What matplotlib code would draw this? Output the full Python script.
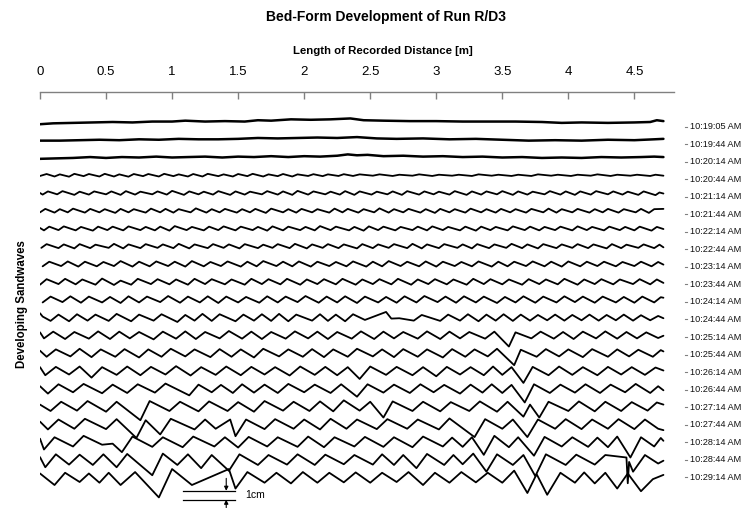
import matplotlib
matplotlib.use("Agg")
import matplotlib.pyplot as plt

plt.rcParams['font.family'] = ['Liberation Sans', 'DejaVu Sans']

# ---------------- data ----------------
title = "Bed-Form Development of Run R/D3"
x_label = "Length of Recorded Distance [m]"
y_label = "Developing Sandwaves"
tick_values = [0, 0.5, 1, 1.5, 2, 2.5, 3, 3.5, 4, 4.5]
tick_labels = ["0", "0.5", "1", "1.5", "2", "2.5", "3", "3.5", "4", "4.5"]
times = ["10:19:05 AM", "10:19:44 AM", "10:20:14 AM", "10:20:44 AM", "10:21:14 AM",
         "10:21:44 AM", "10:22:14 AM", "10:22:44 AM", "10:23:14 AM", "10:23:44 AM",
         "10:24:14 AM", "10:24:44 AM", "10:25:14 AM", "10:25:44 AM", "10:26:14 AM",
         "10:26:44 AM", "10:27:14 AM", "10:27:44 AM", "10:28:14 AM", "10:28:44 AM",
         "10:29:14 AM"]

# bed profiles: x in m, bed level in cm relative to each profile's own mean level
x_1019_05 = [0.00,0.10,0.25,0.40,0.55,0.70,0.85,1.00,1.10,1.25,1.40,1.55,1.65,1.75,1.90,2.05,2.20,2.35,2.45,2.60,2.80,3.00,3.20,3.40,3.60,3.80,3.95,4.10,4.30,4.50,4.62,4.67,4.72]
y_1019_05 = [-0.25,-0.15,-0.1,-0.05,0.0,-0.05,0.05,0.05,0.15,0.05,0.1,0.05,0.2,0.15,0.3,0.25,0.3,0.4,0.2,0.15,0.1,0.1,0.05,0.05,0.05,0.0,-0.1,-0.05,-0.1,-0.05,0.0,0.2,0.1]

x_1019_44 = [0.00,0.15,0.30,0.45,0.60,0.75,0.90,1.05,1.20,1.35,1.50,1.65,1.80,1.95,2.10,2.25,2.40,2.55,2.70,2.90,3.10,3.30,3.50,3.70,3.90,4.10,4.30,4.50,4.65,4.72]
y_1019_44 = [-0.1,-0.1,-0.05,0.0,-0.05,0.05,0.0,0.1,0.05,0.05,0.1,0.2,0.15,0.2,0.25,0.2,0.3,0.15,0.1,0.15,0.05,0.1,0.0,-0.1,-0.05,-0.1,0.0,-0.05,0.05,0.1]

x_1020_14 = [0.00,0.12,0.25,0.38,0.50,0.62,0.75,0.88,1.00,1.12,1.25,1.38,1.50,1.62,1.75,1.88,2.00,2.12,2.25,2.33,2.40,2.48,2.60,2.75,2.90,3.05,3.20,3.35,3.50,3.65,3.80,3.95,4.10,4.25,4.40,4.55,4.65,4.72]
y_1020_14 = [-0.15,-0.1,-0.05,0.05,-0.05,0.05,0.0,0.1,0.0,0.05,0.1,0.0,0.1,0.05,0.15,0.05,0.15,0.1,0.2,0.35,0.25,0.3,0.15,0.2,0.1,0.15,0.05,0.1,0.0,0.05,-0.05,0.0,-0.05,0.05,0.0,0.05,0.1,0.05]

x_1020_44 = [0.00,0.05,0.11,0.15,0.22,0.26,0.33,0.37,0.45,0.49,0.56,0.60,0.67,0.71,0.78,0.82,0.90,0.94,1.01,1.05,1.12,1.16,1.23,1.27,1.35,1.39,1.46,1.50,1.57,1.61,1.69,1.73,1.80,1.84,1.91,1.95,2.03,2.07,2.14,2.18,2.26,2.30,2.37,2.42,2.52,2.57,2.67,2.72,2.82,2.87,2.97,3.02,3.12,3.17,3.27,3.32,3.42,3.47,3.57,3.62,3.72,3.77,3.87,3.92,4.02,4.07,4.17,4.22,4.32,4.37,4.47,4.52,4.62,4.66,4.72]
y_1020_44 = [-0.08,0.14,-0.14,0.1,-0.16,0.16,-0.1,0.14,-0.14,0.16,-0.14,0.1,-0.16,0.14,-0.1,0.14,-0.14,0.16,-0.1,0.1,-0.14,0.14,-0.14,0.16,-0.1,0.1,-0.14,0.14,-0.1,0.16,-0.14,0.1,-0.1,0.14,-0.14,0.1,-0.08,0.12,-0.1,0.1,-0.08,0.12,-0.08,0.1,-0.05,0.1,-0.08,0.06,-0.05,0.1,-0.08,0.06,-0.05,0.06,-0.08,0.1,-0.05,0.06,-0.08,0.06,-0.08,0.1,-0.05,0.06,-0.08,0.06,-0.05,0.1,-0.08,0.06,-0.05,0.06,-0.08,0.06,-0.05]

x_1021_14 = [0.00,0.02,0.06,0.13,0.17,0.26,0.30,0.37,0.41,0.50,0.54,0.61,0.65,0.72,0.76,0.85,0.89,0.96,1.00,1.09,1.13,1.20,1.24,1.31,1.35,1.44,1.48,1.55,1.59,1.68,1.72,1.80,1.84,1.91,1.95,2.03,2.07,2.16,2.20,2.27,2.31,2.38,2.42,2.51,2.55,2.63,2.67,2.74,2.78,2.87,2.91,2.98,3.02,3.10,3.14,3.23,3.27,3.34,3.38,3.46,3.50,3.58,3.62,3.69,3.73,3.82,3.86,3.94,3.98,4.05,4.09,4.17,4.21,4.30,4.34,4.41,4.45,4.53,4.57,4.66,4.69,4.72]
y_1021_14 = [0.0,-0.18,0.18,-0.15,0.21,-0.21,0.15,-0.18,0.18,-0.15,0.18,-0.21,0.21,-0.18,0.15,-0.15,0.18,-0.18,0.24,-0.21,0.18,-0.15,0.15,-0.18,0.21,-0.21,0.18,-0.18,0.15,-0.15,0.21,-0.18,0.18,-0.21,0.24,-0.18,0.18,-0.15,0.15,-0.18,0.21,-0.21,0.18,-0.18,0.15,-0.15,0.18,-0.21,0.21,-0.18,0.18,-0.15,0.15,-0.18,0.21,-0.21,0.18,-0.18,0.18,-0.15,0.21,-0.21,0.18,-0.18,0.15,-0.15,0.21,-0.18,0.18,-0.21,0.18,-0.18,0.21,-0.15,0.18,-0.18,0.15,-0.21,0.18,-0.24,0.06,-0.06]

x_1021_44 = [0.00,0.04,0.11,0.15,0.21,0.25,0.34,0.38,0.45,0.49,0.57,0.61,0.67,0.71,0.80,0.84,0.91,0.95,1.01,1.05,1.14,1.18,1.26,1.30,1.36,1.40,1.49,1.53,1.59,1.63,1.71,1.75,1.84,1.88,1.94,1.98,2.06,2.10,2.19,2.23,2.29,2.33,2.41,2.45,2.53,2.57,2.64,2.68,2.75,2.79,2.88,2.92,2.99,3.03,3.10,3.14,3.22,3.26,3.34,3.38,3.45,3.49,3.56,3.60,3.68,3.72,3.81,3.85,3.91,3.95,4.03,4.07,4.16,4.20,4.26,4.30,4.38,4.42,4.51,4.55,4.61,4.65,4.72]
y_1021_44 = [-0.18,0.21,-0.21,0.18,-0.18,0.24,-0.21,0.21,-0.18,0.18,-0.24,0.21,-0.18,0.18,-0.21,0.24,-0.18,0.21,-0.21,0.18,-0.18,0.27,-0.21,0.18,-0.18,0.21,-0.21,0.18,-0.18,0.21,-0.24,0.24,-0.18,0.18,-0.21,0.21,-0.18,0.18,-0.21,0.24,-0.18,0.21,-0.21,0.18,-0.18,0.27,-0.21,0.18,-0.18,0.21,-0.21,0.18,-0.24,0.21,-0.18,0.18,-0.21,0.24,-0.18,0.18,-0.21,0.21,-0.18,0.18,-0.21,0.21,-0.18,0.24,-0.21,0.18,-0.18,0.21,-0.21,0.18,-0.18,0.21,-0.21,0.18,-0.18,0.21,-0.24,0.18,0.21]

x_1022_14 = [0.00,0.03,0.07,0.14,0.18,0.27,0.31,0.40,0.44,0.51,0.55,0.63,0.67,0.76,0.80,0.87,0.91,0.98,1.02,1.11,1.15,1.24,1.28,1.35,1.39,1.48,1.52,1.61,1.65,1.72,1.76,1.84,1.88,1.97,2.01,2.08,2.12,2.20,2.24,2.34,2.38,2.45,2.49,2.56,2.60,2.69,2.73,2.82,2.86,2.93,2.97,3.05,3.09,3.18,3.22,3.30,3.34,3.41,3.45,3.54,3.58,3.67,3.71,3.78,3.82,3.90,3.94,4.03,4.07,4.14,4.18,4.27,4.31,4.39,4.43,4.50,4.54,4.63,4.67,4.72]
y_1022_14 = [0.06,-0.21,0.21,-0.18,0.24,-0.21,0.18,-0.24,0.21,-0.18,0.21,-0.21,0.24,-0.18,0.18,-0.21,0.21,-0.24,0.27,-0.18,0.18,-0.21,0.21,-0.18,0.24,-0.21,0.21,-0.18,0.18,-0.24,0.24,-0.21,0.21,-0.18,0.18,-0.21,0.27,-0.18,0.21,-0.21,0.18,-0.24,0.24,-0.18,0.21,-0.21,0.18,-0.18,0.21,-0.21,0.24,-0.18,0.18,-0.21,0.21,-0.24,0.21,-0.18,0.18,-0.21,0.24,-0.18,0.21,-0.21,0.18,-0.18,0.21,-0.21,0.24,-0.18,0.18,-0.21,0.21,-0.18,0.18,-0.21,0.21,-0.24,0.18,-0.06]

x_1022_44 = [0.01,0.05,0.14,0.18,0.26,0.30,0.38,0.42,0.52,0.56,0.63,0.67,0.76,0.80,0.89,0.93,1.01,1.05,1.13,1.17,1.27,1.31,1.39,1.43,1.51,1.55,1.65,1.69,1.76,1.80,1.89,1.93,2.02,2.06,2.14,2.18,2.26,2.30,2.40,2.44,2.52,2.56,2.64,2.68,2.78,2.82,2.89,2.93,3.02,3.06,3.16,3.20,3.27,3.31,3.40,3.44,3.53,3.57,3.65,3.69,3.77,3.81,3.91,3.95,4.03,4.07,4.15,4.19,4.29,4.33,4.40,4.44,4.53,4.57,4.65,4.69,4.72]
y_1022_44 = [-0.18,0.24,-0.21,0.21,-0.24,0.24,-0.21,0.18,-0.18,0.27,-0.24,0.21,-0.21,0.24,-0.18,0.21,-0.21,0.27,-0.24,0.21,-0.21,0.24,-0.18,0.21,-0.24,0.24,-0.21,0.18,-0.18,0.24,-0.21,0.27,-0.24,0.21,-0.18,0.24,-0.21,0.21,-0.24,0.24,-0.21,0.21,-0.18,0.24,-0.21,0.27,-0.24,0.21,-0.21,0.24,-0.18,0.21,-0.24,0.24,-0.21,0.21,-0.18,0.27,-0.21,0.21,-0.24,0.24,-0.21,0.21,-0.18,0.24,-0.21,0.21,-0.24,0.24,-0.21,0.18,-0.18,0.21,-0.21,0.18,-0.12]

x_1023_14 = [0.02,0.07,0.16,0.21,0.29,0.34,0.43,0.48,0.56,0.61,0.70,0.75,0.83,0.88,0.97,1.02,1.10,1.15,1.24,1.29,1.37,1.42,1.52,1.57,1.64,1.69,1.79,1.84,1.91,1.96,2.05,2.10,2.19,2.24,2.32,2.37,2.47,2.52,2.59,2.64,2.73,2.78,2.87,2.92,3.00,3.05,3.14,3.19,3.27,3.32,3.42,3.47,3.54,3.59,3.68,3.73,3.82,3.87,3.95,4.00,4.09,4.14,4.22,4.27,4.36,4.41,4.50,4.55,4.63,4.68,4.72]
y_1023_14 = [-0.26,0.26,-0.23,0.29,-0.29,0.26,-0.26,0.23,-0.23,0.33,-0.29,0.26,-0.26,0.29,-0.23,0.26,-0.29,0.33,-0.26,0.23,-0.23,0.29,-0.29,0.26,-0.26,0.33,-0.23,0.26,-0.26,0.29,-0.29,0.26,-0.23,0.23,-0.26,0.29,-0.29,0.26,-0.26,0.33,-0.23,0.26,-0.26,0.29,-0.29,0.26,-0.23,0.23,-0.26,0.29,-0.29,0.26,-0.26,0.26,-0.23,0.29,-0.26,0.26,-0.29,0.29,-0.26,0.26,-0.23,0.26,-0.26,0.23,-0.23,0.26,-0.26,0.23,-0.07]

x_1023_44 = [0.00,0.05,0.14,0.19,0.27,0.32,0.42,0.47,0.56,0.61,0.69,0.74,0.84,0.89,0.98,1.03,1.12,1.17,1.25,1.30,1.40,1.45,1.55,1.60,1.68,1.73,1.82,1.87,1.97,2.02,2.10,2.15,2.24,2.29,2.39,2.44,2.52,2.57,2.66,2.71,2.81,2.86,2.94,2.99,3.08,3.13,3.23,3.28,3.36,3.41,3.50,3.55,3.65,3.70,3.78,3.83,3.92,3.97,4.07,4.12,4.20,4.25,4.34,4.39,4.49,4.54,4.62,4.67,4.72]
y_1023_44 = [-0.33,0.29,-0.26,0.33,-0.29,0.26,-0.33,0.36,-0.36,0.13,-0.33,0.33,-0.26,0.29,-0.29,0.26,-0.33,0.33,-0.26,0.29,-0.29,0.26,-0.33,0.33,-0.26,0.29,-0.29,0.33,-0.33,0.26,-0.26,0.29,-0.29,0.33,-0.33,0.26,-0.26,0.29,-0.29,0.33,-0.33,0.26,-0.26,0.29,-0.29,0.26,-0.33,0.33,-0.26,0.29,-0.29,0.26,-0.33,0.29,-0.26,0.26,-0.29,0.33,-0.33,0.26,-0.26,0.29,-0.29,0.26,-0.26,0.29,-0.29,0.26,-0.13]

x_1024_14 = [0.02,0.08,0.17,0.23,0.31,0.37,0.47,0.53,0.61,0.67,0.75,0.81,0.91,0.97,1.06,1.12,1.21,1.27,1.35,1.41,1.50,1.56,1.66,1.72,1.80,1.86,1.95,2.01,2.11,2.17,2.25,2.31,2.40,2.46,2.56,2.62,2.70,2.76,2.85,2.91,3.01,3.07,3.15,3.21,3.30,3.36,3.46,3.52,3.60,3.66,3.75,3.81,3.91,3.97,4.05,4.11,4.20,4.26,4.36,4.42,4.50,4.56,4.65,4.70,4.72]
y_1024_14 = [-0.33,0.33,-0.29,0.36,-0.36,0.33,-0.33,0.29,-0.39,0.36,-0.33,0.33,-0.29,0.39,-0.36,0.33,-0.33,0.36,-0.39,0.33,-0.33,0.29,-0.36,0.36,-0.33,0.33,-0.29,0.39,-0.36,0.33,-0.33,0.36,-0.39,0.33,-0.33,0.29,-0.36,0.36,-0.33,0.39,-0.29,0.33,-0.36,0.36,-0.33,0.33,-0.39,0.29,-0.33,0.36,-0.36,0.33,-0.33,0.36,-0.29,0.33,-0.36,0.33,-0.33,0.29,-0.36,0.33,-0.33,0.26,0.2]

x_1024_44 = [0.00,0.02,0.08,0.14,0.22,0.28,0.36,0.42,0.52,0.58,0.69,0.75,0.86,0.92,1.04,1.10,1.17,1.23,1.30,1.36,1.48,1.54,1.62,1.68,1.75,1.81,1.88,1.94,2.06,2.12,2.18,2.24,2.31,2.37,2.46,2.62,2.66,2.72,2.83,2.89,3.03,3.09,3.18,3.24,3.32,3.38,3.45,3.51,3.58,3.64,3.71,3.77,3.84,3.90,3.97,4.03,4.10,4.16,4.23,4.29,4.36,4.42,4.49,4.55,4.62,4.68,4.72]
y_1024_44 = [0.45,0.08,-0.41,0.3,-0.45,0.34,-0.38,0.3,-0.41,0.38,-0.45,0.3,-0.38,0.34,-0.53,0.26,-0.38,0.38,-0.41,0.34,-0.45,0.3,-0.38,0.34,-0.41,0.38,-0.45,0.3,-0.38,0.34,-0.41,0.3,-0.45,0.34,-0.3,0.6,-0.15,-0.11,-0.38,0.26,-0.41,0.3,-0.38,0.34,-0.45,0.3,-0.38,0.34,-0.41,0.3,-0.38,0.26,-0.34,0.3,-0.38,0.26,-0.34,0.3,-0.38,0.26,-0.34,0.3,-0.38,0.23,-0.34,0.15,-0.11]

x_1025_14 = [0.00,0.03,0.10,0.19,0.26,0.37,0.44,0.53,0.60,0.68,0.75,0.86,0.93,1.03,1.10,1.18,1.25,1.36,1.43,1.53,1.60,1.68,1.75,1.86,1.93,2.03,2.10,2.18,2.25,2.36,2.43,2.53,2.60,2.68,2.75,2.86,2.93,3.03,3.10,3.18,3.25,3.37,3.44,3.55,3.60,3.72,3.79,3.89,3.96,4.04,4.11,4.21,4.28,4.37,4.44,4.52,4.59,4.68,4.72]
y_1025_14 = [0.3,-0.38,0.38,-0.45,0.34,-0.41,0.41,-0.45,0.38,-0.38,0.34,-0.49,0.38,-0.41,0.41,-0.45,0.34,-0.38,0.45,-0.41,0.38,-0.45,0.34,-0.41,0.41,-0.38,0.38,-0.45,0.34,-0.41,0.41,-0.45,0.38,-0.38,0.34,-0.41,0.41,-0.45,0.38,-0.38,0.34,-0.41,0.38,-1.3,0.3,-0.38,0.38,-0.41,0.34,-0.45,0.38,-0.38,0.41,-0.41,0.34,-0.38,0.3,-0.34,-0.08]

x_1025_44 = [0.00,0.05,0.12,0.23,0.30,0.39,0.46,0.57,0.64,0.75,0.82,0.92,0.99,1.10,1.17,1.29,1.36,1.45,1.52,1.62,1.69,1.81,1.88,1.99,2.06,2.15,2.22,2.33,2.40,2.52,2.59,2.68,2.75,2.86,2.93,3.05,3.12,3.22,3.29,3.39,3.46,3.59,3.64,3.76,3.83,3.93,4.00,4.11,4.18,4.30,4.37,4.46,4.53,4.64,4.70,4.72]
y_1025_44 = [0.23,-0.45,0.38,-0.41,0.45,-0.49,0.38,-0.45,0.41,-0.53,0.38,-0.45,0.45,-0.41,0.38,-0.49,0.41,-0.45,0.38,-0.53,0.45,-0.41,0.38,-0.45,0.41,-0.49,0.38,-0.45,0.45,-0.41,0.38,-0.49,0.41,-0.45,0.38,-0.53,0.41,-0.45,0.38,-0.41,0.45,-1.4,0.34,-0.45,0.41,-0.41,0.38,-0.49,0.41,-0.45,0.38,-0.41,0.34,-0.45,0.3,0.15]

x_1026_14 = [0.00,0.04,0.12,0.22,0.30,0.39,0.47,0.58,0.66,0.76,0.84,0.95,1.03,1.14,1.22,1.33,1.41,1.52,1.60,1.70,1.78,1.89,1.97,2.08,2.16,2.25,2.33,2.42,2.50,2.62,2.70,2.82,2.90,3.00,3.08,3.18,3.26,3.36,3.43,3.50,3.57,3.66,3.73,3.85,3.93,4.03,4.11,4.22,4.30,4.40,4.48,4.58,4.66,4.72]
y_1026_14 = [0.38,-0.53,0.41,-0.45,0.45,-0.8,0.38,-0.49,0.45,-0.53,0.41,-0.45,0.49,-0.56,0.38,-0.49,0.45,-0.53,0.41,-0.45,0.38,-0.56,0.45,-0.49,0.41,-0.53,0.38,-0.95,0.45,-0.49,0.41,-0.53,0.38,-0.65,0.41,-0.45,0.38,-0.53,0.45,-0.49,0.38,-1.4,0.41,-0.53,0.45,-0.49,0.38,-0.53,0.41,-0.45,0.38,-0.49,0.34,0.0]

x_1026_44 = [0.00,0.06,0.14,0.25,0.33,0.47,0.55,0.66,0.74,0.87,0.95,1.13,1.20,1.30,1.37,1.46,1.53,1.62,1.70,1.80,1.88,2.00,2.08,2.20,2.28,2.40,2.48,2.60,2.68,2.80,2.88,2.98,3.06,3.18,3.26,3.35,3.42,3.50,3.57,3.67,3.74,3.86,3.94,4.05,4.13,4.24,4.32,4.43,4.51,4.62,4.68,4.72]
y_1026_44 = [0.23,-0.6,0.45,-0.45,0.49,-0.56,0.41,-0.53,0.45,-0.49,0.53,-0.8,0.41,-0.45,0.38,-0.53,0.45,-0.49,0.41,-0.53,0.49,-0.45,0.41,-0.53,0.45,-0.95,0.45,-0.49,0.41,-0.53,0.45,-0.45,0.38,-0.6,0.41,-0.49,0.45,-0.53,0.38,-1.6,0.45,-0.53,0.41,-0.49,0.45,-0.53,0.41,-0.45,0.49,-0.53,0.23,-0.23]

x_1027_14 = [0.00,0.08,0.16,0.28,0.36,0.50,0.58,0.76,0.83,0.98,1.06,1.20,1.28,1.42,1.50,1.62,1.70,1.84,1.92,2.04,2.12,2.22,2.30,2.42,2.50,2.60,2.67,2.82,2.90,3.03,3.11,3.25,3.33,3.46,3.54,3.66,3.71,3.78,3.85,4.00,4.08,4.20,4.28,4.40,4.48,4.60,4.67,4.72]
y_1027_14 = [0.16,-0.56,0.48,-0.52,0.56,-0.64,0.48,-1.6,0.56,-0.56,0.48,-0.6,0.52,-0.56,0.44,-0.64,0.56,-0.52,0.48,-0.56,0.52,-0.6,0.64,-0.52,0.48,-1.3,0.52,-0.56,0.48,-0.6,0.44,-0.56,0.52,-0.64,0.48,-1.2,0.16,-1.3,0.48,-0.56,0.52,-0.6,0.48,-0.56,0.44,-0.52,0.4,0.16]

x_1027_44 = [0.00,0.06,0.14,0.26,0.34,0.50,0.58,0.73,0.80,0.91,0.99,1.17,1.25,1.33,1.44,1.48,1.56,1.70,1.78,1.92,2.00,2.12,2.20,2.32,2.40,2.55,2.63,2.78,2.86,3.02,3.10,3.29,3.37,3.50,3.58,3.69,3.77,3.90,3.98,4.10,4.18,4.30,4.38,4.50,4.58,4.68,4.72]
y_1027_44 = [0.24,-0.64,0.48,-0.56,0.56,-0.6,0.52,-1.6,0.4,-1.2,0.56,-0.64,0.48,-0.56,0.48,-1.4,0.48,-0.6,0.52,-0.56,0.48,-0.64,0.56,-0.56,0.48,-0.6,0.52,-0.56,0.48,-0.64,0.6,-1.5,0.52,-0.56,0.48,-1.5,0.48,-0.56,0.52,-0.6,0.48,-0.56,0.52,-0.6,0.48,-0.56,-0.72]

x_1028_14 = [0.00,0.03,0.11,0.25,0.33,0.47,0.55,0.62,0.70,0.85,0.93,1.08,1.16,1.32,1.40,1.50,1.58,1.72,1.80,1.95,2.03,2.15,2.23,2.38,2.46,2.60,2.68,2.82,2.90,3.05,3.12,3.20,3.27,3.36,3.44,3.55,3.62,3.74,3.82,3.95,4.03,4.15,4.22,4.30,4.37,4.47,4.55,4.65,4.70,4.72]
y_1028_14 = [0.32,-0.9,0.48,-0.56,0.64,-0.36,-0.24,-1.2,0.56,-0.6,0.48,-0.64,0.56,-0.56,0.48,-0.68,0.52,-0.56,0.48,-0.6,0.56,-0.64,0.48,-0.56,0.52,-0.6,0.48,-0.64,0.56,-0.56,0.44,-0.6,0.48,-1.5,0.64,-0.64,0.48,-1.6,0.52,-0.56,0.48,-0.6,0.44,-0.64,0.56,-1.8,0.48,-0.56,0.4,0.08]

x_1028_44 = [0.00,0.04,0.12,0.22,0.30,0.40,0.48,0.58,0.66,0.85,0.93,1.04,1.12,1.22,1.30,1.43,1.51,1.65,1.73,1.87,1.95,2.08,2.16,2.30,2.38,2.52,2.59,2.68,2.75,2.85,2.93,3.06,3.13,3.20,3.28,3.38,3.46,3.58,3.66,3.75,3.83,3.98,4.06,4.20,4.28,4.44,4.45,4.46,4.49,4.58,4.68,4.72]
y_1028_44 = [0.24,-0.9,0.56,-0.6,0.52,-0.64,0.56,-0.9,0.6,-1.8,0.64,-0.64,0.56,-1.0,0.48,-1.3,0.56,-0.64,0.48,-0.6,0.56,-0.64,0.52,-0.56,0.48,-0.6,0.56,-0.64,0.48,-1.0,0.6,-0.64,0.48,-0.56,0.64,-1.4,0.56,-0.64,0.48,-1.9,0.56,-0.64,0.52,-0.6,0.48,0.2,-2.7,-0.3,-1.4,0.48,-0.48,-0.16]

x_1029_14 = [0.00,0.11,0.19,0.30,0.37,0.45,0.52,0.61,0.72,0.90,1.00,1.15,1.43,1.48,1.57,1.70,1.79,1.90,1.99,2.10,2.19,2.30,2.39,2.50,2.59,2.70,2.79,2.90,2.99,3.10,3.19,3.30,3.39,3.50,3.59,3.69,3.76,3.84,3.94,4.05,4.12,4.20,4.28,4.37,4.45,4.55,4.64,4.72]
y_1029_14 = [0.4,-0.9,0.48,-0.56,0.4,-0.64,0.48,-0.9,0.56,-2.3,0.9,-0.9,0.9,-1.3,0.56,-0.64,0.48,-0.72,0.56,-0.64,0.48,-0.6,0.52,-0.64,0.48,-0.56,0.56,-0.9,0.48,-0.64,0.56,-0.6,0.48,-0.64,0.72,-1.8,0.32,-2.0,0.48,-0.64,0.52,-0.72,0.48,-1.3,0.4,-1.6,-0.24,0.24]

profiles = [
    (x_1019_05, y_1019_05), (x_1019_44, y_1019_44), (x_1020_14, y_1020_14),
    (x_1020_44, y_1020_44), (x_1021_14, y_1021_14), (x_1021_44, y_1021_44),
    (x_1022_14, y_1022_14), (x_1022_44, y_1022_44), (x_1023_14, y_1023_14),
    (x_1023_44, y_1023_44), (x_1024_14, y_1024_14), (x_1024_44, y_1024_44),
    (x_1025_14, y_1025_14), (x_1025_44, y_1025_44), (x_1026_14, y_1026_14),
    (x_1026_44, y_1026_44), (x_1027_14, y_1027_14), (x_1027_44, y_1027_44),
    (x_1028_14, y_1028_14), (x_1028_44, y_1028_44), (x_1029_14, y_1029_14),
]

# ---------------- layout ----------------
W, H = 743, 508
fig = plt.figure(figsize=(W / 100, H / 100), dpi=100)
ax = fig.add_axes([40 / W, 0, 634 / W, 416 / H])
ax.set_xlim(0, 4.80)
ax.set_ylim(-43.49, 3.38)

SPACING = 2.0   # cm between successive profiles

for k, (xs, ys) in enumerate(profiles):
    n = min(len(xs), len(ys))
    lw = 1.8 if k < 3 else 1.3
    ax.plot(xs[:n], [v - SPACING * k for v in ys[:n]], color='black', lw=lw,
            solid_joinstyle='round', solid_capstyle='round')

# time labels on the right
for k, t in enumerate(times):
    ly = -SPACING * k * 0.986 - 0.56
    ax.plot([4.884, 4.896], [ly, ly], color='#808080', lw=0.8, clip_on=False)
    ax.text(4.922, ly, t, fontsize=6.6, va='center', ha='left', color='#111111',
            clip_on=False)

# axes styling
for s in ['bottom', 'left', 'right']:
    ax.spines[s].set_visible(False)
ax.spines['top'].set_color('#808080')
ax.spines['top'].set_linewidth(1.0)
ax.xaxis.tick_top()
ax.set_xticks(tick_values)
ax.set_xticklabels(tick_labels, fontsize=9.5)
ax.tick_params(axis='x', direction='in', length=5, width=1, color='#808080', pad=10)
ax.set_yticks([])

# scale bar 1 cm
sb_x0, sb_x1, sb_xa = 1.08, 1.48, 1.41
sb_top = -41.55
sb_bot = sb_top - 1.0
ax.plot([sb_x0, sb_x1], [sb_top, sb_top], color='black', lw=0.9)
ax.plot([sb_x0, sb_x1], [sb_bot, sb_bot], color='black', lw=0.9)
ax.annotate('', xy=(sb_xa, sb_top), xytext=(sb_xa, sb_top + 1.4),
            arrowprops=dict(arrowstyle='-|>', color='black', lw=0.8,
                            mutation_scale=6, shrinkA=0, shrinkB=0))
ax.annotate('', xy=(sb_xa, sb_bot), xytext=(sb_xa, -43.45),
            arrowprops=dict(arrowstyle='-|>', color='black', lw=0.8,
                            mutation_scale=6, shrinkA=0, shrinkB=0))
ax.text(1.55, (sb_top + sb_bot) / 2, '1cm', fontsize=7.5, va='center', ha='left')

# titles
fig.text(386 / W, 1 - 17 / H, title, ha='center', va='center', fontsize=10,
         fontweight='bold')
fig.text(383 / W, 1 - 51 / H, x_label, ha='center', va='center', fontsize=8.2,
         fontweight='bold')
fig.text(22 / W, 1 - 304 / H, y_label, ha='center', va='center', fontsize=8.3,
         fontweight='bold', rotation=90)

fig.savefig('out.png', dpi=100)
